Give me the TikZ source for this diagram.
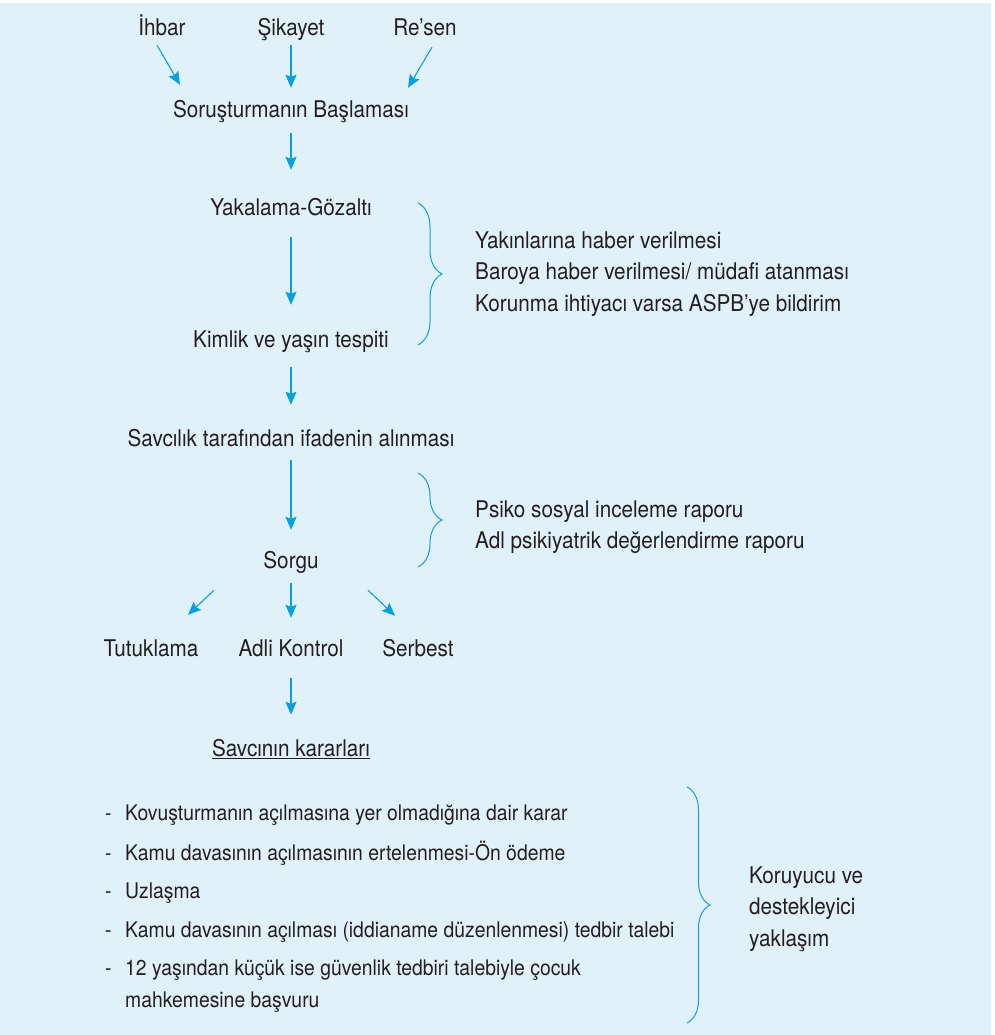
\documentclass[tikz,border=0pt]{standalone}
\usepackage{fontspec}
\setmainfont[FakeStretch=0.9]{TeX Gyre Heros}
\usepackage{tikz}
\usetikzlibrary{arrows.meta, positioning, decorations.pathreplacing}
\definecolor{bgblue}{HTML}{E1F1FA}
\definecolor{linkblue}{HTML}{0AA0E0}
\definecolor{textgray}{HTML}{231F20}
\tikzstyle{stage} = [text=textgray, font=\fontsize{23}{31.5}\selectfont, inner sep=2pt, text height=17pt, text depth=5pt]
\tikzstyle{note} = [text=textgray, font=\fontsize{23}{31.5}\selectfont, inner sep=0pt, align=left, anchor=west]
\tikzstyle{item} = [stage, anchor=west, font=\fontsize{21.5}{32}\selectfont]
\tikzstyle{arrow} = [line width=1.1pt, draw=linkblue, -{Stealth[length=13pt, width=11pt, inset=2pt, linkblue]}]
\tikzstyle{brace} = [draw=linkblue, line width=1pt, decorate, decoration={brace, amplitude=24pt}]

\begin{document}
\begin{tikzpicture}[x=1pt, y=-1pt, on grid]
    \useasboundingbox (0,0) rectangle (994,1035);
    \fill [bgblue] (0,3) rectangle (991,1035);

    \node (sikayet) [stage] at (291,30) {Şikayet};
    \node (ihbar) [stage, left=129pt of sikayet] {İhbar};
    \node (resen) [stage, right=134pt of sikayet] {Re’sen};
    \node (baslama) [stage, below=82pt of sikayet] {Soruşturmanın Başlaması};
    \node (yakalama) [stage, below=97pt of baslama] {Yakalama-Gözaltı};
    \node (kimlik) [stage, below=132pt of yakalama] {Kimlik ve yaşın tespiti};
    \node (ifade) [stage, below=99pt of kimlik] {Savcılık tarafından ifadenin alınması};
    \node (sorgu) [stage, below=122pt of ifade] {Sorgu};
    \node (adli) [stage, below=88pt of sorgu] {Adli Kontrol};
    \node (tutuklama) [stage, left=140pt of adli] {Tutuklama};
    \node (serbest) [stage, right=127pt of adli] {Serbest};
    \node (kararlar) [stage, below=100pt of adli] {\underline{Savcının kararları}};

    \draw [arrow] ([xshift=-5pt, yshift=-2pt]ihbar.south) -- ([xshift=-111pt, yshift=14pt]baslama.north);
    \draw [arrow, shorten <=2pt, shorten >=11pt] (sikayet) -- (baslama);
    \draw [arrow] ([xshift=7pt, yshift=-4pt]resen.south) -- ([xshift=117pt, yshift=11pt]baslama.north);
    \draw [arrow, shorten <=8pt, shorten >=26pt] (baslama) -- (yakalama);
    \draw [arrow, shorten <=15pt, shorten >=23pt] (yakalama) -- (kimlik);
    \draw [arrow, shorten <=13pt, shorten >=22pt] (kimlik) -- (ifade);
    \draw [arrow, shorten <=7pt, shorten >=19pt] (ifade) -- (sorgu);
    \draw [arrow] ([xshift=-77pt, yshift=-15pt]sorgu.south) -- ([xshift=37pt, yshift=22pt]tutuklama.north);
    \draw [arrow, shorten <=8pt, shorten >=19pt] (sorgu) -- (adli);
    \draw [arrow] ([xshift=77pt, yshift=-15pt]sorgu.south) -- ([xshift=-23pt, yshift=21pt]serbest.north);
    \draw [arrow, shorten <=15pt, shorten >=22pt] (adli) -- (kararlar);

    % braces and side notes
    \draw [brace] (418,203) -- (418,345);
    \node (haber) [note] at (475,274) {Yakınlarına haber verilmesi\\Baroya haber verilmesi/ müdafi atanması\\Korunma ihtiyacı varsa ASPB’ye bildirim};
    \draw [brace] (418,473) -- (418,567);
    \node (rapor) [note] at (475,527) {Psiko sosyal inceleme raporu\\Adl psikiyatrik değerlendirme raporu};

    % decisions of the prosecutor
    \node (karar1) [item] at (103,814) {\makebox[20pt][l]{-}Kovuşturmanın açılmasına yer olmadığına dair karar};
    \node (karar2) [item] at (103,854) {\makebox[20pt][l]{-}Kamu davasının açılmasının ertelenmesi-Ön ödeme};
    \node (karar3) [item] at (103,892) {\makebox[20pt][l]{-}Uzlaşma};
    \node (karar4) [item] at (103,931) {\makebox[20pt][l]{-}Kamu davasının açılması (iddianame düzenlenmesi) tedbir talebi};
    \node (karar5) [note, font=\fontsize{21.5}{32}\selectfont] at (105,986) {\makebox[20pt][l]{-}12 yaşından küçük ise güvenlik tedbiri talebiyle çocuk\\\hspace*{20pt}mahkemesine başvuru};
    \draw [brace, decoration={amplitude=23pt}] (687,787) -- (687,1023);
    \node (yaklasim) [note] at (749,909) {Koruyucu ve\\destekleyici\\yaklaşım};
\end{tikzpicture}
\end{document}
